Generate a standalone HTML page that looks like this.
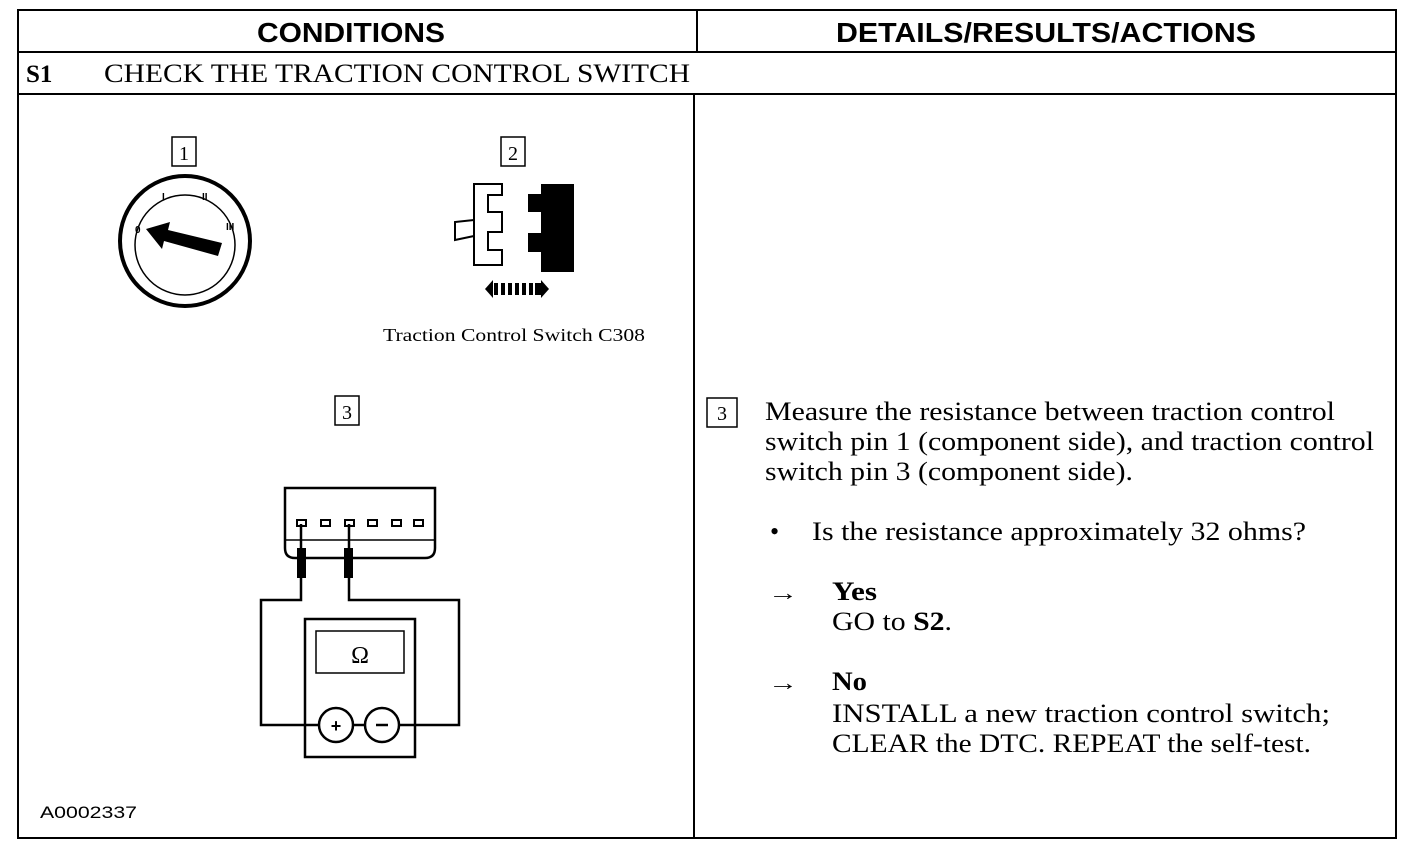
<!DOCTYPE html>
<html><head><style>
body{margin:0;background:#fff}
svg text{fill:#000}
.s{font-family:"Liberation Serif",serif}
.a{font-family:"Liberation Sans",sans-serif}
</style></head><body>
<svg width="1408" height="844" xmlns="http://www.w3.org/2000/svg">
<g stroke="#000" stroke-width="2" fill="none">
<rect x="18" y="10" width="1378" height="828"/>
<line x1="18" y1="52" x2="1396" y2="52"/>
<line x1="18" y1="94" x2="1396" y2="94"/>
<line x1="697" y1="10" x2="697" y2="52"/>
<line x1="694" y1="94" x2="694" y2="838"/>
</g>
<text class="a" x="257" y="42" font-size="28" font-weight="bold" textLength="188" lengthAdjust="spacingAndGlyphs">CONDITIONS</text>
<text class="a" x="836" y="42" font-size="28" font-weight="bold" textLength="420" lengthAdjust="spacingAndGlyphs">DETAILS/RESULTS/ACTIONS</text>
<text class="s" x="26" y="82" font-size="25" font-weight="bold">S1</text>
<text class="s" x="104" y="82" font-size="26" textLength="586" lengthAdjust="spacingAndGlyphs">CHECK THE TRACTION CONTROL SWITCH</text>

<g stroke="#000" stroke-width="1.5" fill="none">
<rect x="172" y="137" width="24" height="29"/>
<rect x="501" y="137" width="24" height="29"/>
<rect x="335" y="396" width="24" height="29"/>
<rect x="707" y="398" width="30" height="29"/>
</g>
<text class="s" x="184" y="160" font-size="20" text-anchor="middle">1</text>
<text class="s" x="513" y="160" font-size="20" text-anchor="middle">2</text>
<text class="s" x="347" y="419" font-size="20" text-anchor="middle">3</text>
<text class="s" x="722" y="420" font-size="20" text-anchor="middle">3</text>

<!-- ignition -->
<circle cx="185" cy="241" r="65" stroke="#000" stroke-width="4" fill="none"/>
<circle cx="185" cy="245" r="50" stroke="#000" stroke-width="1.5" fill="none"/>
<polygon points="146,229 170,222 168,230 222,243 218,256 164,241 162,249" fill="#000"/>
<text x="135" y="233" font-size="10" font-weight="bold" class="a">0</text>
<text x="162" y="200" font-size="10" font-weight="bold" class="a">I</text>
<text x="202" y="200" font-size="10" font-weight="bold" class="a">II</text>
<text x="226" y="230" font-size="10" font-weight="bold" class="a">III</text>

<!-- connector 2 -->
<path d="M474,184 H502 V195 H488 V212 H502 V232 H488 V250 H502 V265 H474 Z" stroke="#000" stroke-width="2" fill="#fff"/>
<path d="M474,220 L455,222 V240 L474,236" stroke="#000" stroke-width="2" fill="none"/>
<path d="M541,184 H574 V272 H541 V252 H528 V233 H541 V212 H528 V194 H541 Z" fill="#000"/>
<polygon points="485,289 493,280 493,298" fill="#000"/>
<polygon points="549,289 541,280 541,298" fill="#000"/>
<g fill="#000"><rect x="494" y="283" width="4" height="12"/><rect x="501" y="283" width="4" height="12"/><rect x="508" y="283" width="4" height="12"/><rect x="515" y="283" width="4" height="12"/><rect x="522" y="283" width="4" height="12"/><rect x="529" y="283" width="4" height="12"/><rect x="535" y="283" width="6" height="12"/></g>
<text class="s" x="383" y="341" font-size="18" textLength="262" lengthAdjust="spacingAndGlyphs">Traction Control Switch C308</text>

<!-- connector 3 & meter -->
<g stroke="#000" stroke-width="2.5" fill="none">
<path d="M285,488 H435 V548 Q435,558 425,558 H295 Q285,558 285,548 Z"/>
<line x1="286" y1="540" x2="434" y2="540" stroke-width="1.5"/>
<path d="M301,524 V600 H261 V725 H318"/>
<path d="M349,524 V600 H459 V725 H400"/>
<rect x="305" y="619" width="110" height="138"/>
<rect x="316" y="631" width="88" height="42" stroke-width="1.5"/>
<circle cx="336" cy="725" r="17"/>
<circle cx="382" cy="725" r="17"/>
<line x1="353" y1="725" x2="365" y2="725"/>
</g>
<g stroke="#000" stroke-width="2" fill="none">
<rect x="297" y="520" width="9" height="6"/><rect x="321" y="520" width="9" height="6"/><rect x="345" y="520" width="9" height="6"/><rect x="368" y="520" width="9" height="6"/><rect x="392" y="520" width="9" height="6"/><rect x="414" y="520" width="9" height="6"/>
</g>
<rect x="297" y="548" width="9" height="30" fill="#000"/>
<rect x="344" y="548" width="9" height="30" fill="#000"/>
<text class="s" x="360" y="663" font-size="24" text-anchor="middle">Ω</text>
<text class="a" x="336" y="732" font-size="18" font-weight="bold" text-anchor="middle">+</text>
<line x1="376" y1="725" x2="388" y2="725" stroke="#000" stroke-width="2.5"/>
<text class="a" x="40" y="818" font-size="17" textLength="97" lengthAdjust="spacingAndGlyphs">A0002337</text>

<g class="s" font-size="26">
<text x="765" y="420" textLength="570" lengthAdjust="spacingAndGlyphs">Measure the resistance between traction control</text>
<text x="765" y="450" textLength="609" lengthAdjust="spacingAndGlyphs">switch pin 1 (component side), and traction control</text>
<text x="765" y="480" textLength="368" lengthAdjust="spacingAndGlyphs">switch pin 3 (component side).</text>
<text x="770" y="540">•</text>
<text x="812" y="540" textLength="494" lengthAdjust="spacingAndGlyphs">Is the resistance approximately 32 ohms?</text>
<text x="768" y="600" font-size="22" textLength="30" lengthAdjust="spacingAndGlyphs">→</text>
<text x="832" y="600" font-weight="bold" textLength="45" lengthAdjust="spacingAndGlyphs">Yes</text>
<text x="832" y="630" textLength="120" lengthAdjust="spacingAndGlyphs">GO to <tspan font-weight="bold">S2</tspan>.</text>
<text x="768" y="690" font-size="22" textLength="30" lengthAdjust="spacingAndGlyphs">→</text>
<text x="832" y="690" font-weight="bold" textLength="35" lengthAdjust="spacingAndGlyphs">No</text>
<text x="832" y="722" textLength="498" lengthAdjust="spacingAndGlyphs">INSTALL a new traction control switch;</text>
<text x="832" y="752" textLength="479" lengthAdjust="spacingAndGlyphs">CLEAR the DTC. REPEAT the self-test.</text>
</g>
</svg>
</body></html>
